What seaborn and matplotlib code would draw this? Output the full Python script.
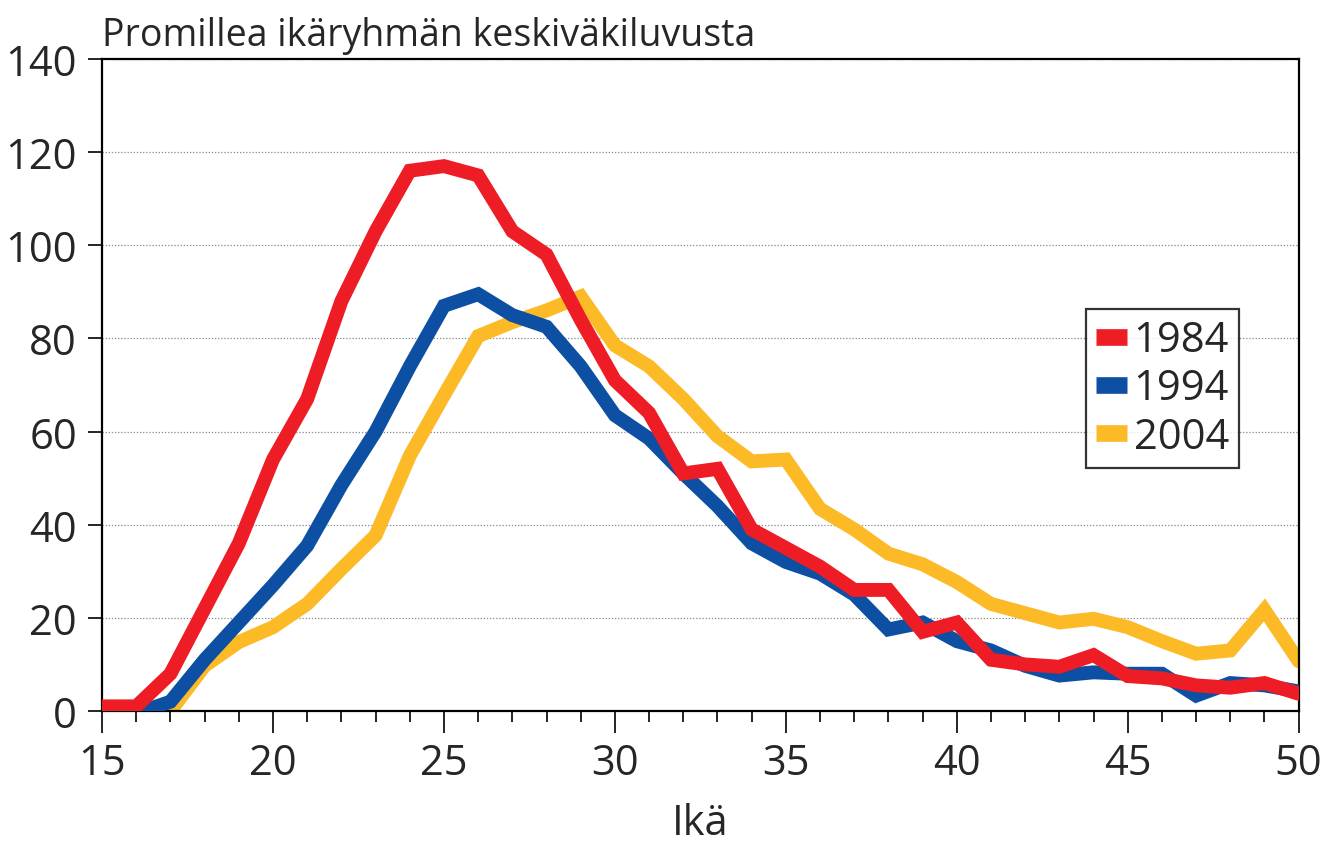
import matplotlib
matplotlib.use("Agg")
import matplotlib.pyplot as plt
from matplotlib.ticker import MultipleLocator
import seaborn as sns
import pandas as pd

ages = list(range(15, 51))
v1984 = [1, 1, 8, 22, 36, 54, 67, 88, 103, 116, 117, 115, 103, 98, 84, 71, 64, 51, 52, 39,
         35, 31, 26, 26, 17, 19, 11, 10, 9.5, 12, 7.5, 7, 5.5, 5, 6, 3.7]
v1994 = [-0.5, -0.5, 2, 11, 19, 27, 35.5, 48.5, 60, 74, 87, 89.5, 85, 82.5, 74, 63.5, 58.5, 51, 44, 36,
         32, 29.5, 25, 17.5, 19, 15, 13, 9.7, 7.6, 8.3, 8, 8, 3.3, 6, 5.5, 4.2]
v2004 = [-1, -0.5, 0, 9.7, 14.8, 18, 23, 30.5, 37.7, 54.8, 67.8, 80.5, 83.5, 86, 89, 78.5, 74, 67, 59, 53.6,
         54, 43.4, 39, 33.8, 31.5, 27.7, 23, 21, 19, 19.8, 18, 15, 12.3, 13, 21.7, 10.7]
years = ["1984", "1994", "2004"]
colors = ["#EE1C25", "#0D4FA3", "#FBBA26"]

df = pd.DataFrame({
    "Ikä": ages * 3,
    "value": v1984 + v1994 + v2004,
    "year": [years[0]] * len(ages) + [years[1]] * len(ages) + [years[2]] * len(ages),
})

sns.set_theme(style="white")
plt.rcParams["font.family"] = ["Open Sans", "DejaVu Sans"]

fig = plt.figure(figsize=(13.43, 8.45), dpi=100)
ax = fig.add_axes([0.076, 0.1574, 0.891, 0.7716])

sns.lineplot(data=df, x="Ikä", y="value", hue="year", hue_order=years,
             palette=colors, linewidth=10, ax=ax, solid_joinstyle="miter")

for ln, z in zip(ax.get_lines()[:3], [4, 3, 2]):
    ln.set_zorder(z)

ax.set_xlim(15, 50)
ax.set_ylim(0, 140)
ax.xaxis.set_major_locator(MultipleLocator(5))
ax.xaxis.set_minor_locator(MultipleLocator(1))
ax.yaxis.set_major_locator(MultipleLocator(20))

ax.grid(axis="y", which="major", linestyle=(0, (1, 1.5)), color="#888888", linewidth=0.9)
ax.grid(axis="x", visible=False)
ax.set_axisbelow(True)

for sp in ax.spines.values():
    sp.set_color("black")
    sp.set_linewidth(1.6)

ax.tick_params(axis="x", which="major", direction="out", length=16, width=1.2,
               color="black", labelsize=30, pad=6, bottom=True)
ax.tick_params(axis="x", which="minor", direction="out", length=8, width=1.2,
               color="black", bottom=True)
ax.tick_params(axis="y", which="major", direction="out", length=10, width=1.2,
               color="black", labelsize=30, pad=8, left=True)

ax.set_ylabel("")
ax.set_xlabel("Ikä", fontsize=30, labelpad=13)

fig.text(0.076, 0.957, "Promillea ikäryhmän keskiväkiluvusta", fontsize=27,
         ha="left", va="center")

leg = ax.legend(loc="upper left", bbox_to_anchor=(0.822, 0.617), frameon=True,
                fancybox=False, edgecolor="black", fontsize=30,
                handlelength=0.75, handletextpad=0.15, borderpad=0.25,
                labelspacing=0.15, borderaxespad=0)
leg.get_frame().set_linewidth(1.6)
for h in leg.get_lines():
    h.set_linewidth(12)
    h.set_solid_capstyle("butt")

fig.savefig("out.png", dpi=100)
